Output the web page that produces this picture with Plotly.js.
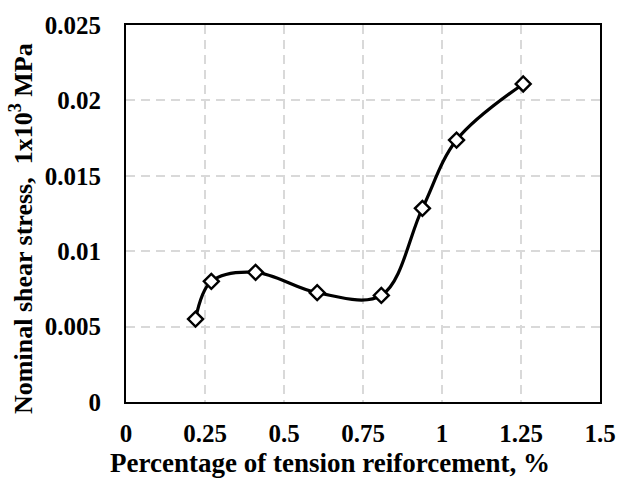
<!DOCTYPE html>
<html>
<head>
<meta charset="utf-8">
<script src="https://cdn.plot.ly/plotly-3.0.1.min.js"></script>
<style>html,body{margin:0;padding:0;background:#fff;}</style>
</head>
<body>
<div id="chart" style="width:617px;height:481px;"></div>
<script>
const reinforcement = [0.22, 0.27, 0.41, 0.605, 0.808, 0.938, 1.046, 1.257];
const shearStress = [0.0055, 0.0080, 0.0086, 0.00725, 0.00707, 0.01284, 0.01737, 0.02109];
const xTicks = [0, 0.25, 0.5, 0.75, 1, 1.25, 1.5];
const xTickLabels = ['0', '0.25', '0.5', '0.75', '1', '1.25', '1.5'];
const yTicks = [0, 0.005, 0.01, 0.015, 0.02, 0.025];
const yTickLabels = ['0', '0.005', '0.01', '0.015', '0.02', '0.025'];
const xTitle = 'Percentage of tension reiforcement, %';
const yTitle = 'Nominal shear stress,  1x10<sup>3</sup> MPa';

const font = 'Liberation Serif, Times New Roman, serif';

const trace = {
  x: reinforcement,
  y: shearStress,
  mode: 'lines+markers',
  line: {color: '#000', width: 3.2, shape: 'spline', smoothing: 1},
  marker: {symbol: 'diamond', size: 11.5, color: '#fff', line: {color: '#000', width: 2.4}},
  hoverinfo: 'skip'
};

const layout = {
  width: 617, height: 481,
  margin: {l: 126, r: 17, t: 25, b: 79},
  paper_bgcolor: '#fff', plot_bgcolor: '#fff',
  showlegend: false,
  font: {family: font, color: '#000'},
  xaxis: {
    range: [0, 1.5], tickvals: xTicks, ticktext: xTickLabels,
    showgrid: true, gridcolor: '#d9d9d9', gridwidth: 2, griddash: '9px,6px',
    zeroline: false, showline: true, linecolor: '#000', linewidth: 2, mirror: true,
    ticks: '', ticklabelstandoff: 8,
    tickfont: {family: font, size: 25, color: '#000', weight: 'bold'}
  },
  yaxis: {
    range: [0, 0.025], tickvals: yTicks, ticktext: yTickLabels,
    showgrid: true, gridcolor: '#d9d9d9', gridwidth: 2, griddash: '9px,6px',
    zeroline: false, showline: true, linecolor: '#000', linewidth: 2, mirror: true,
    ticks: '', ticklabelstandoff: 18,
    tickfont: {family: font, size: 25, color: '#000', weight: 'bold'}
  },
  annotations: [{
    text: '<b>' + yTitle + '</b>', textangle: -90,
    xref: 'paper', yref: 'paper', x: 0, y: 0.459, xanchor: 'center', yanchor: 'middle',
    xshift: -104, showarrow: false,
    font: {family: font, size: 26, color: '#000'}
  }, {
    text: '<b>' + xTitle + '</b>',
    xref: 'paper', yref: 'paper', x: 0.43, y: 0, xanchor: 'center', yanchor: 'middle',
    yshift: -61, showarrow: false,
    font: {family: font, size: 27, color: '#000'}
  }]
};

Plotly.newPlot('chart', [trace], layout, {displayModeBar: false, staticPlot: true});
</script>
</body>
</html>
